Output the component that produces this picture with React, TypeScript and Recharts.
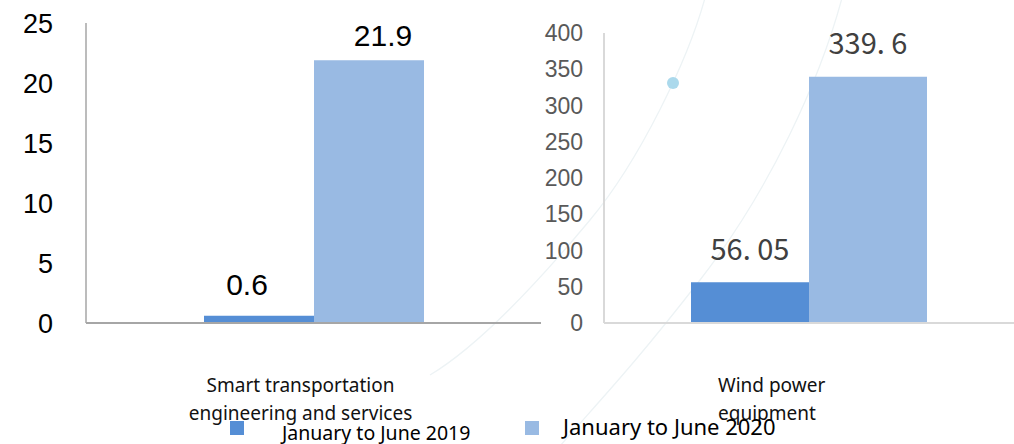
import React from "react";
import { BarChart, Bar, XAxis, YAxis, LabelList } from "recharts";

const seriesNames = ["January to June 2019", "January to June 2020"];
const seriesColors = ["#558ED5", "#99BAE3"];

const leftCategories = ["Smart transportation engineering and services"];
const leftValues2019 = [0.6];
const leftValues2020 = [21.9];
const leftTicks = [0, 5, 10, 15, 20, 25];

const rightCategories = ["Wind power equipment"];
const rightValues2019 = [56.05];
const rightValues2020 = [339.6];
const rightTicks = [0, 50, 100, 150, 200, 250, 300, 350, 400];

// how the long category names wrap under the axis
const categoryLines: Record<string, string[]> = {
  "Smart transportation engineering and services": [
    "Smart transportation",
    "engineering and services",
  ],
  "Wind power equipment": ["Wind power", "equipment"],
};

const leftData = leftCategories.map((name, i) => ({
  name,
  y2019: leftValues2019[i],
  y2020: leftValues2020[i],
}));

const rightData = rightCategories.map((name, i) => ({
  name,
  y2019: rightValues2019[i],
  y2020: rightValues2020[i],
}));

const CategoryTick = ({ x, y, payload, dx = 0, anchor = "middle" }: any) => {
  const lines = categoryLines[payload.value] || [payload.value];
  return (
    <g>
      {lines.map((line: string, i: number) => (
        <text
          key={i}
          x={x + dx}
          y={y + 67 + i * 28}
          textAnchor={anchor}
          fontSize={19}
          fill="#111"
          fontFamily="'Noto Sans', 'Open Sans', sans-serif"
        >
          {line}
        </text>
      ))}
    </g>
  );
};

const makeLabel =
  (opts: {
    dx: number;
    gap: number;
    size: number;
    color: string;
    family: string;
    format?: (v: number) => string;
  }) =>
  (props: any) => {
    const { x, y, width, value } = props;
    const text = opts.format ? opts.format(value) : String(value);
    return (
      <text
        x={x + width / 2 + opts.dx}
        y={y - opts.gap}
        textAnchor="middle"
        fontSize={opts.size}
        fill={opts.color}
        fontFamily={opts.family}
      >
        {text}
      </text>
    );
  };

// the right panel prints its values with a space after the decimal point
const spacedDecimal = (v: number) => String(v).replace(".", ". ");

const ARIAL = "'Liberation Sans', Arial, sans-serif";
const CJK = "'Noto Sans CJK SC', 'Noto Sans', sans-serif";
const BODY = "'Noto Sans', 'Open Sans', sans-serif";

export default function App() {
  return (
    <div
      style={{
        position: "absolute",
        left: 0,
        top: 0,
        width: 1014,
        height: 444,
        background: "#fff",
        overflow: "hidden",
      }}
    >
      {/* faint background arcs */}
      <svg
        width={1014}
        height={444}
        style={{ position: "absolute", left: 0, top: 0 }}
      >
        <path
          d="M 705 -2 C 688 60, 640 160, 590 220 S 480 345 430 375"
          fill="none"
          stroke="#edf3f5"
          strokeWidth={1.3}
        />
        <path
          d="M 842 -2 C 820 80, 770 190, 700 280 S 600 400 560 446"
          fill="none"
          stroke="#edf3f5"
          strokeWidth={1.3}
        />
        <circle cx={673} cy={83} r={6} fill="#abd9ec" />
      </svg>

      <div style={{ position: "absolute", left: 0, top: 0 }}>
        <BarChart
          width={541}
          height={444}
          data={leftData}
          margin={{ top: 23, right: 0, bottom: 21, left: 0 }}
          barCategoryGap={118}
          barGap={0}
        >
          <XAxis
            dataKey="name"
            height={100}
            tickLine={false}
            tickSize={0}
            axisLine={{ stroke: "#a6a6a6", strokeWidth: 2 }}
            tick={<CategoryTick dx={-13} />}
            interval={0}
          />
          <YAxis
            width={86}
            domain={[0, 25]}
            ticks={leftTicks}
            tickLine={false}
            tickSize={0}
            tickMargin={33}
            axisLine={{ stroke: "#a6a6a6", strokeWidth: 1.5 }}
            tick={{ fill: "#000", fontSize: 27, fontFamily: ARIAL }}
          />
          <Bar
            dataKey="y2019"
            name={seriesNames[0]}
            fill={seriesColors[0]}
            isAnimationActive={false}
          >
            <LabelList
              dataKey="y2019"
              content={makeLabel({
                dx: -12,
                gap: 21,
                size: 30,
                color: "#000",
                family: ARIAL,
              })}
            />
          </Bar>
          <Bar
            dataKey="y2020"
            name={seriesNames[1]}
            fill={seriesColors[1]}
            isAnimationActive={false}
          >
            <LabelList
              dataKey="y2020"
              content={makeLabel({
                dx: 14,
                gap: 14,
                size: 30,
                color: "#000",
                family: ARIAL,
              })}
            />
          </Bar>
        </BarChart>
      </div>

      <div style={{ position: "absolute", left: 500, top: 0 }}>
        <BarChart
          width={514}
          height={444}
          data={rightData}
          margin={{ top: 33, right: 0, bottom: 21, left: 0 }}
          barCategoryGap={87}
          barGap={0}
        >
          <XAxis
            dataKey="name"
            height={100}
            tickLine={false}
            tickSize={0}
            axisLine={{ stroke: "#d9d9d9", strokeWidth: 2 }}
            tick={<CategoryTick dx={-91} anchor="start" />}
            interval={0}
          />
          <YAxis
            width={104}
            domain={[0, 400]}
            ticks={rightTicks}
            tickLine={false}
            tickSize={0}
            tickMargin={21}
            axisLine={{ stroke: "#d9d9d9", strokeWidth: 2 }}
            tick={{ fill: "#595959", fontSize: 23, fontFamily: ARIAL }}
          />
          <Bar
            dataKey="y2019"
            name={seriesNames[0]}
            fill={seriesColors[0]}
            isAnimationActive={false}
          >
            <LabelList
              dataKey="y2019"
              content={makeLabel({
                dx: 0,
                gap: 22,
                size: 29,
                color: "#404040",
                family: CJK,
                format: spacedDecimal,
              })}
            />
          </Bar>
          <Bar
            dataKey="y2020"
            name={seriesNames[1]}
            fill={seriesColors[1]}
            isAnimationActive={false}
          >
            <LabelList
              dataKey="y2020"
              content={makeLabel({
                dx: 0,
                gap: 23,
                size: 29,
                color: "#404040",
                family: CJK,
                format: spacedDecimal,
              })}
            />
          </Bar>
        </BarChart>
      </div>

      {/* legend */}
      <svg
        width={1014}
        height={444}
        style={{ position: "absolute", left: 0, top: 0, pointerEvents: "none" }}
      >
        <rect x={230} y={421} width={14} height={14} fill={seriesColors[0]} />
        <text x={282} y={440} fontSize={19.5} fill="#000" fontFamily={BODY}>
          {seriesNames[0]}
        </text>
        <rect x={525} y={421} width={14} height={14} fill={seriesColors[1]} />
        <text x={563} y={435} fontSize={22} fill="#000" fontFamily={BODY}>
          {seriesNames[1]}
        </text>
      </svg>
    </div>
  );
}
